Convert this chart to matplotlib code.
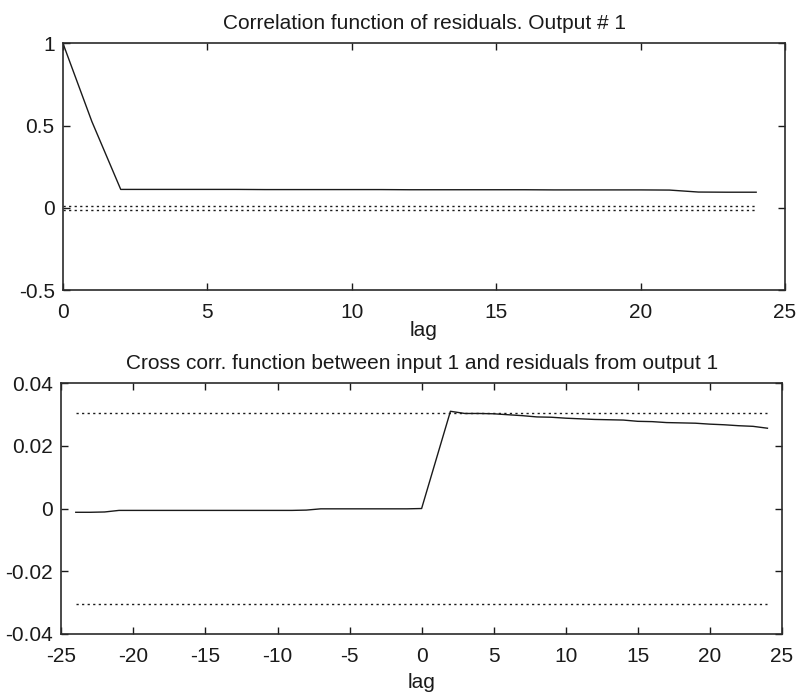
import numpy as np
import matplotlib
matplotlib.use("Agg")
import matplotlib.pyplot as plt

plt.rcParams['font.family'] = ['Liberation Sans', 'DejaVu Sans']
plt.rcParams['axes.unicode_minus'] = False

# autocorrelation of residuals, output 1
lag_auto = list(range(0, 25))
r_auto = [1.0, 0.525, 0.112, 0.112, 0.112, 0.112, 0.112, 0.111, 0.111, 0.111,
          0.111, 0.111, 0.110, 0.110, 0.110, 0.110, 0.110, 0.109, 0.109, 0.109,
          0.109, 0.108, 0.096, 0.095, 0.095]
conf_auto = 0.011

# cross correlation input 1 / residuals output 1
lag_cross = list(range(-24, 25))
r_cross = [-0.0012, -0.0012, -0.0011, -0.0006, -0.0006, -0.0006, -0.0006, -0.0006,
           -0.0006, -0.0006, -0.0006, -0.0006, -0.0006, -0.0006, -0.0006, -0.0006,
           -0.0005, -0.0001, -0.0001, -0.0001, -0.0001, -0.0001, -0.0001, -0.0001,
           0.0000, 0.0155, 0.0310, 0.0303, 0.0303, 0.0302, 0.0299, 0.0296, 0.0292,
           0.0291, 0.0288, 0.0286, 0.0284, 0.0283, 0.0282, 0.0278, 0.0277, 0.0274,
           0.0273, 0.0272, 0.0269, 0.0267, 0.0264, 0.0262, 0.0256]
conf_cross = 0.0305

ink = '#1a1a1a'
fs = 15
dots = (0, (1.6, 2.4))

fig = plt.figure(figsize=(7.97, 6.99), dpi=100)
ax1 = fig.add_axes([0.079, 0.585, 0.906, 0.353])
ax2 = fig.add_axes([0.077, 0.093, 0.904, 0.359])

# upper plot
ax1.plot(lag_auto, r_auto, color=ink, lw=1.0)
ax1.plot([lag_auto[0], lag_auto[-1]], [conf_auto, conf_auto], color=ink, lw=1.0, ls=dots)
ax1.plot([lag_auto[0], lag_auto[-1]], [-conf_auto, -conf_auto], color=ink, lw=1.0, ls=dots)
ax1.set_xlim(0, 25)
ax1.set_ylim(-0.5, 1)
ax1.set_xticks([0, 5, 10, 15, 20, 25])
ax1.set_yticks([-0.5, 0, 0.5, 1])
ax1.set_yticklabels(['-0.5', '0', '0.5', '1'])
ax1.set_title('Correlation function of residuals. Output # 1', fontsize=fs, pad=10, color=ink)
ax1.set_xlabel('lag', fontsize=fs, labelpad=-1, color=ink)

# lower plot
ax2.plot(lag_cross, r_cross, color=ink, lw=1.0)
ax2.plot([lag_cross[0], lag_cross[-1]], [conf_cross, conf_cross], color=ink, lw=1.0, ls=dots)
ax2.plot([lag_cross[0], lag_cross[-1]], [-conf_cross, -conf_cross], color=ink, lw=1.0, ls=dots)
ax2.set_xlim(-25, 25)
ax2.set_ylim(-0.04, 0.04)
ax2.set_xticks(list(range(-25, 30, 5)))
ax2.set_xticklabels([str(v) for v in range(-25, 30, 5)])
ax2.set_yticks([-0.04, -0.02, 0, 0.02, 0.04])
ax2.set_yticklabels(['-0.04', '-0.02', '0', '0.02', '0.04'])
ax2.set_title('Cross corr. function between input 1 and residuals from output 1',
              fontsize=fs, pad=10, color=ink)
ax2.set_xlabel('lag', fontsize=fs, labelpad=5, color=ink)

for ax in (ax1, ax2):
    ax.tick_params(direction='in', length=5, width=1, top=True, right=True,
                   labelsize=fs, colors=ink)
    ax.tick_params(axis='x', pad=9.5)
    ax.tick_params(axis='y', pad=6)
    for s in ax.spines.values():
        s.set_linewidth(1.2)
        s.set_color('#2a2a2a')

fig.savefig('out.png', dpi=100)
